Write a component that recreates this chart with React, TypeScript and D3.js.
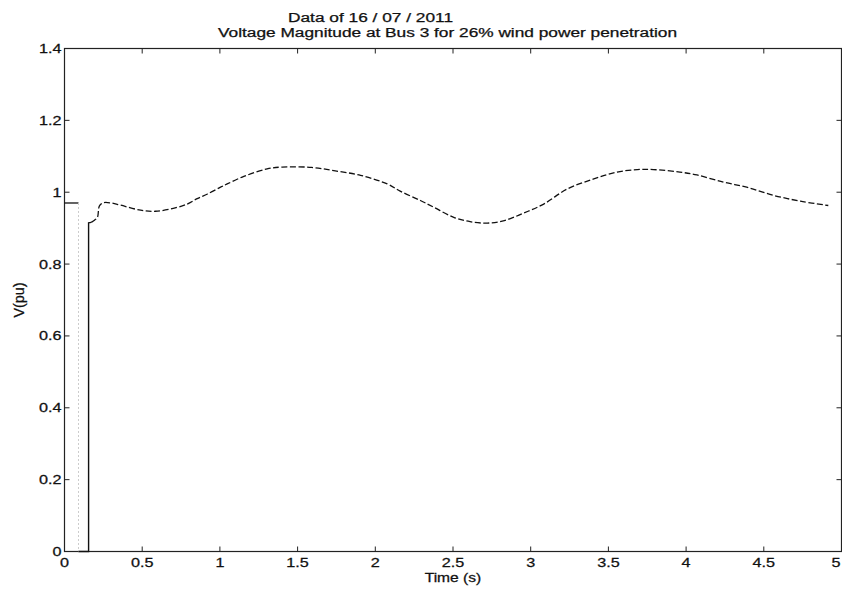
import React from "react";
import * as d3 from "d3";

const titleLine1 = "Data of 16 / 07 / 2011";
const titleLine2 = "Voltage Magnitude at Bus 3 for 26% wind power penetration";
const xLabel = "Time (s)";
const yLabel = "V(pu)";

const xTicks = [0, 0.5, 1, 1.5, 2, 2.5, 3, 3.5, 4, 4.5, 5];
const xTickLabels = ["0", "0.5", "1", "1.5", "2", "2.5", "3", "3.5", "4", "4.5", "5"];
const yTicks = [0, 0.2, 0.4, 0.6, 0.8, 1, 1.2, 1.4];
const yTickLabels = ["0", "0.2", "0.4", "0.6", "0.8", "1", "1.2", "1.4"];

// pre-fault and fault portion
const preTime = [0, 0.09];
const preV = [0.97, 0.97];
const dropTime = [0.09, 0.09];
const dropV = [0.97, 0];
const faultTime = [0.09, 0.155, 0.155, 0.172];
const faultV = [0, 0, 0.915, 0.916];

// post-fault recovery
const mainTime = [
  0.172, 0.195, 0.212, 0.225, 0.253, 0.3, 0.36, 0.49, 0.585, 0.7, 0.79, 0.854, 0.92,
  1.004, 1.047, 1.154, 1.304, 1.4, 1.59, 1.733, 1.905, 2.077, 2.16, 2.29, 2.377,
  2.505, 2.61, 2.72, 2.83, 2.955, 3.084, 3.235, 3.406, 3.556, 3.685, 3.79, 3.96,
  4.07, 4.24, 4.39, 4.565, 4.736, 4.915,
];
const mainV = [
  0.916, 0.923, 0.93, 0.962, 0.971, 0.97, 0.964, 0.95, 0.947, 0.955, 0.967, 0.982,
  0.995, 1.014, 1.023, 1.044, 1.065, 1.07, 1.069, 1.06, 1.047, 1.023, 1.003, 0.977,
  0.958, 0.93, 0.918, 0.914, 0.921, 0.942, 0.967, 1.009, 1.037, 1.056, 1.063, 1.063,
  1.056, 1.048, 1.028, 1.014, 0.991, 0.975, 0.963,
];

const W = 842;
const H = 592;
const left = 64.5;
const right = 841.5;
const top = 48.5;
const bottom = 551.5;

const FONT = "'Liberation Sans', Arial, sans-serif";

export default function App() {
  const x = d3.scaleLinear().domain([0, 5]).range([left, right]);
  const y = d3.scaleLinear().domain([0, 1.4]).range([bottom, top]);

  const pts = (t: number[], v: number[]) => t.map((tt, i) => [tt, v[i]] as [number, number]);
  const lin = d3
    .line<[number, number]>()
    .x((d) => x(d[0]))
    .y((d) => y(d[1]));
  const smooth = d3
    .line<[number, number]>()
    .x((d) => x(d[0]))
    .y((d) => y(d[1]))
    .curve(d3.curveCatmullRom.alpha(0.5));

  const tickLen = 5;
  const labelStyle = { fontFamily: FONT, fontSize: 12, fill: "#111", stroke: "#111", strokeWidth: 0.25 } as const;

  return (
    <svg
      width={W}
      height={H}
      style={{ position: "absolute", left: 0, top: 0, background: "#fff" }}
    >
      <rect x={0} y={0} width={W} height={H} fill="#fff" />
      {/* titles */}
      <text x={288} y={22} textLength={165} lengthAdjust="spacingAndGlyphs" style={labelStyle}>
        {titleLine1}
      </text>
      <text x={218} y={37} textLength={459} lengthAdjust="spacingAndGlyphs" style={labelStyle}>
        {titleLine2}
      </text>

      {/* axes box */}
      <rect x={left} y={top} width={right - left} height={bottom - top} fill="none" stroke="#222" strokeWidth={1.2} />

      {/* x ticks */}
      {xTicks.map((t, i) => {
        const last = i === xTicks.length - 1;
        return (
          <g key={"x" + i}>
            <line x1={x(t)} x2={x(t)} y1={bottom} y2={bottom - tickLen} stroke="#222" />
            <line x1={x(t)} x2={x(t)} y1={top} y2={top + tickLen} stroke="#222" />
            <text
              transform={`translate(${last ? x(t) - 1 : x(t)},${567}) scale(1.35,1)`}
              textAnchor={last ? "end" : "middle"}
              style={labelStyle}
            >
              {xTickLabels[i]}
            </text>
          </g>
        );
      })}
      {/* y ticks */}
      {yTicks.map((v, i) => (
        <g key={"y" + i}>
          <line x1={left} x2={left + tickLen} y1={y(v)} y2={y(v)} stroke="#222" />
          <line x1={right} x2={right - tickLen} y1={y(v)} y2={y(v)} stroke="#222" />
          <text
            transform={`translate(${left - 3},${y(v) + 4.5}) scale(1.35,1)`}
            textAnchor="end"
            style={labelStyle}
          >
            {yTickLabels[i]}
          </text>
        </g>
      ))}

      {/* axis labels */}
      <text transform={`translate(453,582) scale(1.3,1)`} textAnchor="middle" style={labelStyle}>
        {xLabel}
      </text>
      <text transform={`translate(24,300) rotate(-90) scale(1.2,1.15)`} textAnchor="middle" style={labelStyle}>
        {yLabel}
      </text>

      {/* curve */}
      <path d={lin(pts(preTime, preV)) || ""} fill="none" stroke="#111" strokeWidth={1.3} />
      <path d={lin(pts(dropTime, dropV)) || ""} fill="none" stroke="#ccc" strokeWidth={1} strokeDasharray="2 2" />
      <path d={lin(pts(faultTime, faultV)) || ""} fill="none" stroke="#111" strokeWidth={1.4} />
      <path
        d={smooth(pts(mainTime, mainV)) || ""}
        fill="none"
        stroke="#111"
        strokeWidth={1.3}
        strokeDasharray="6 2.5"
      />
    </svg>
  );
}
